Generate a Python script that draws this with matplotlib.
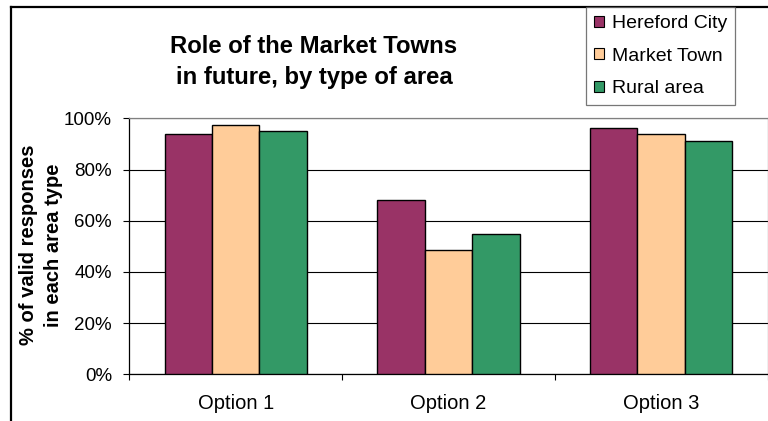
import matplotlib
matplotlib.use("Agg")
import matplotlib.pyplot as plt
import numpy as np
from matplotlib.lines import Line2D
from matplotlib.patches import Patch
from matplotlib.ticker import FixedLocator, PercentFormatter


options = ["Option 1", "Option 2", "Option 3"]
series_names = ["Hereford City", "Market Town", "Rural area"]
hereford_city = [93.9, 68.2, 96.2]
market_town = [97.5, 48.7, 93.7]
rural_area = [95.0, 54.9, 91.1]
y_ticks = [0, 20, 40, 60, 80, 100]

COLORS = ["#993366", "#FFCC99", "#339966"]

W, H = 768, 421


def fx(px):
    return px / W


def fy(py):
    return 1 - py / H


def make_chart() -> None:
    plt.rcParams["font.family"] = ["Liberation Sans", "DejaVu Sans"]
    fig = plt.figure(figsize=(W / 100, H / 100), dpi=100)

    left, right, top, bottom = 129.3, 767.5, 118.3, 374.3
    ax = fig.add_axes([fx(left), fy(bottom), fx(right - left), (bottom - top) / H])

    x = np.arange(len(options))
    width = 0.223
    values = [hereford_city, market_town, rural_area]
    for i, (vals, color) in enumerate(zip(values, COLORS)):
        ax.bar(x + (i - 1) * width, vals, width, color=color,
               edgecolor="black", linewidth=1.0, zorder=3)

    ax.set_xlim(-0.5, len(options) - 0.5)
    ax.set_ylim(0, 100)
    ax.yaxis.set_major_locator(FixedLocator(y_ticks))
    ax.yaxis.set_major_formatter(PercentFormatter(decimals=0))
    ax.grid(axis="y", color="black", linewidth=0.8, zorder=1)

    ax.set_xticks(x)
    ax.set_xticklabels(options, fontsize=14.5)
    ax.set_xticks(np.arange(-0.5, len(options)), minor=True)
    ax.tick_params(axis="x", which="major", length=0, pad=14)
    ax.tick_params(axis="x", which="minor", direction="out", length=4.5,
                   width=0.8, color="black")
    ax.tick_params(axis="y", direction="out", length=4.5, width=0.8,
                   labelsize=13.5, pad=8)

    for side in ["top", "right"]:
        ax.spines[side].set_color("#808080")
        ax.spines[side].set_linewidth(0.9)
    for side in ["left", "bottom"]:
        ax.spines[side].set_color("black")
        ax.spines[side].set_linewidth(0.9)

    fig.text(fx(314), fy(62), "Role of the Market Towns\nin future, by type of area",
             ha="center", va="center", fontsize=17.2, fontweight="bold",
             linespacing=1.4)

    fig.text(fx(41.5), fy(245), "% of valid responses\nin each area type",
             ha="center", va="center", rotation=90, fontsize=14.5,
             fontweight="bold", linespacing=1.4)

    handles = [Patch(facecolor=c, edgecolor="black", linewidth=0.8) for c in COLORS]
    leg = fig.legend(handles, series_names, loc="upper left",
                     bbox_to_anchor=(fx(586), fy(7)), fontsize=14.0,
                     frameon=True, fancybox=False, handlelength=0.5,
                     handleheight=0.5, handletextpad=0.4, labelspacing=0.8,
                     borderpad=0.42, borderaxespad=0)
    leg.get_frame().set_edgecolor("#555555")
    leg.get_frame().set_linewidth(0.9)

    # outer chart border (right and bottom fall outside the image)
    fig.add_artist(Line2D([fx(11), fx(11)], [fy(7), 0], color="black",
                          linewidth=1.6, transform=fig.transFigure))
    fig.add_artist(Line2D([fx(11), 1], [fy(7), fy(7)], color="black",
                          linewidth=1.6, transform=fig.transFigure))

    fig.savefig("out.png", dpi=100)
    plt.close(fig)


if __name__ == "__main__":
    make_chart()
